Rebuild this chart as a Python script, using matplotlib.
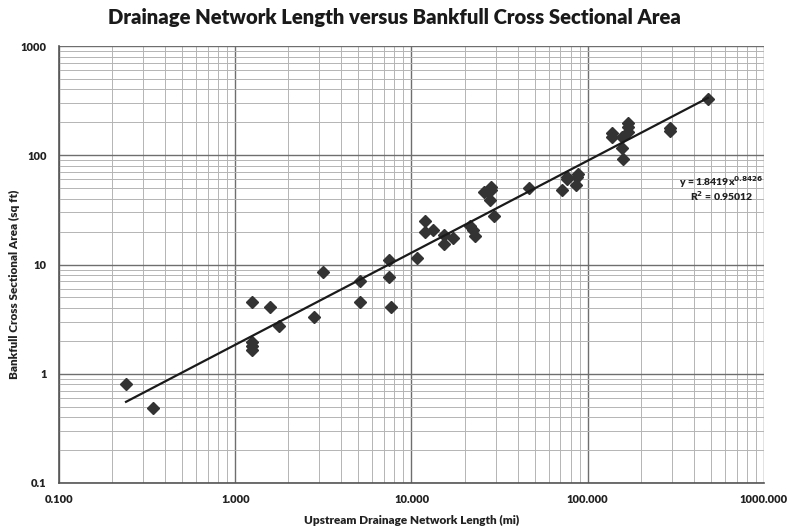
import numpy as np
import matplotlib
matplotlib.use('Agg')
import matplotlib.pyplot as plt
from matplotlib.ticker import LogLocator, FixedLocator, FixedFormatter, NullFormatter

# drainage network length (mi) and bankfull cross sectional area (sq ft)
length_mi = [0.24, 0.342, 1.25, 1.25, 1.25, 1.25, 1.58, 1.78, 2.81, 3.16,
             5.13, 5.13, 7.5, 7.5, 7.66, 10.7, 11.9, 12.0, 13.2, 15.2,
             15.2, 17.1, 21.4, 22.2, 22.8, 25.7, 27.0, 28.1, 28.1, 27.8,
             29.2, 46.2, 71.2, 75.9, 76.5, 87.6, 87.0, 85.5, 137.0, 137.0,
             156.0, 169.0, 169.0, 169.0, 156.0, 158.0, 292.0, 292.0, 481.0]
area_sqft = [0.81, 0.49, 4.58, 1.97, 1.81, 1.66, 4.12, 2.76, 3.33, 8.6,
             7.13, 4.58, 10.9, 7.76, 4.12, 11.4, 19.7, 24.8, 20.9, 18.8,
             15.4, 17.3, 22.3, 20.5, 18.1, 45.8, 45.8, 50.9, 47.6, 38.7,
             27.6, 49.8, 47.6, 62.9, 60.5, 68.0, 63.0, 53.0, 159.0, 147.0,
             147.0, 197.0, 181.0, 163.0, 116.0, 92.0, 178.0, 166.0, 326.0]

# power trendline y = a * x^b
coef_a = 1.8419
coef_b = 0.8426
r_squared = 0.95012

x_ticks = [0.1, 1, 10, 100, 1000]
x_tick_labels = ['0.100', '1.000', '10.000', '100.000', '1000.000']
y_ticks = [0.1, 1, 10, 100, 1000]
y_tick_labels = ['0.1', '1', '10', '100', '1000']

plt.rcParams['font.family'] = ['Lato', 'DejaVu Sans']

fig = plt.figure(figsize=(7.88, 5.27), dpi=100)
ax = fig.add_axes([0.0749, 0.0835, 0.8946, 0.8292])

ax.set_xscale('log')
ax.set_yscale('log')
ax.set_xlim(0.1, 1000)
ax.set_ylim(0.1, 1000)

ax.xaxis.set_major_locator(FixedLocator(x_ticks))
ax.xaxis.set_major_formatter(FixedFormatter(x_tick_labels))
ax.yaxis.set_major_locator(FixedLocator(y_ticks))
ax.yaxis.set_major_formatter(FixedFormatter(y_tick_labels))
ax.xaxis.set_minor_locator(LogLocator(base=10, subs=np.arange(2, 10), numticks=20))
ax.yaxis.set_minor_locator(LogLocator(base=10, subs=np.arange(2, 10), numticks=20))
ax.xaxis.set_minor_formatter(NullFormatter())
ax.yaxis.set_minor_formatter(NullFormatter())

ax.grid(which='major', color='#6e6e6e', linewidth=1.0)
ax.grid(which='minor', color='#b4b4b4', linewidth=0.7)
ax.set_axisbelow(True)
ax.tick_params(which='both', length=0)
ax.tick_params(axis='x', which='major', labelsize=8, pad=8)
ax.tick_params(axis='y', which='major', labelsize=8, pad=9)
for lbl in ax.get_xticklabels() + ax.get_yticklabels():
    lbl.set_fontweight('heavy')
    lbl.set_color('#222222')
for side in ['top', 'right']:
    ax.spines[side].set_visible(False)
for side in ['left', 'bottom']:
    ax.spines[side].set_color('#555555')
    ax.spines[side].set_linewidth(1.2)

ax.plot(length_mi, area_sqft, ls='none', marker='D', markersize=6,
        color='#333333', zorder=3)

fit_x = np.array([min(length_mi), max(length_mi)])
fit_y = coef_a * fit_x ** coef_b
ax.plot(fit_x, fit_y, color='#1a1a1a', linewidth=1.6, zorder=4)

ax.text(0.94, 0.689, r'y = %.4fx$^{\mathbf{%.4f}}$' % (coef_a, coef_b),
        transform=ax.transAxes, ha='center', va='center', fontsize=7.5,
        fontweight='heavy', color='#222222')
ax.text(0.94, 0.657, r'R$^{\mathbf{2}}$ = %.5f' % r_squared,
        transform=ax.transAxes, ha='center', va='center', fontsize=7.5,
        fontweight='heavy', color='#222222')

ax.set_xlabel('Upstream Drainage Network Length (mi)', fontsize=8.5,
              fontweight='heavy', labelpad=7, color='#222222')
ax.set_ylabel('Bankfull Cross Sectional Area (sq ft)', fontsize=8.5,
              fontweight='heavy', color='#222222')
ax.yaxis.set_label_coords(-0.055, 0.455)
fig.suptitle('Drainage Network Length versus Bankfull Cross Sectional Area',
             x=0.5, y=0.985, fontsize=14.6, fontweight='heavy', color='#1a1a1a')

fig.savefig('out.png', dpi=100)
